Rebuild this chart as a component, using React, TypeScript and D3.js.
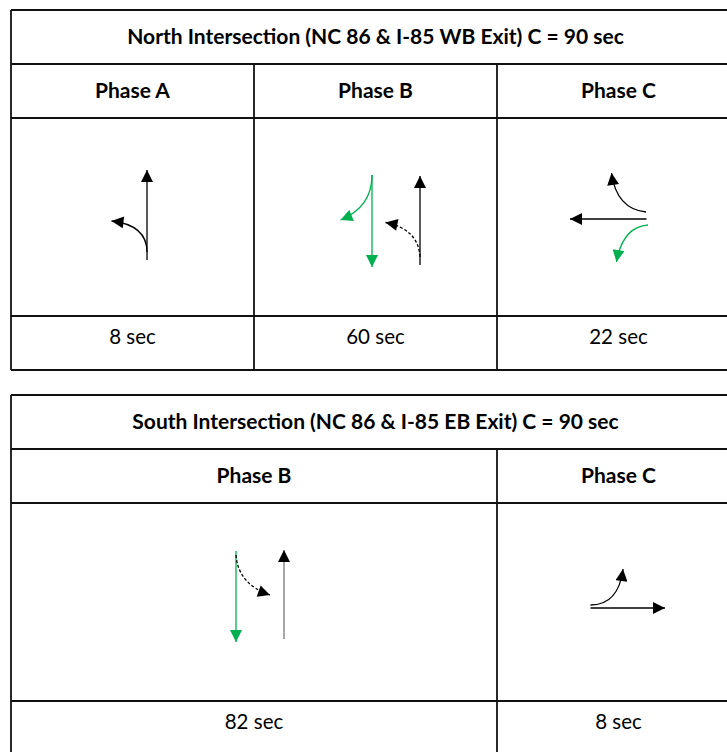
import React from 'react';
import { scaleBand, path as d3path } from 'd3';

// table content
const northTitle = 'North Intersection (NC 86 & I-85 WB Exit) C = 90 sec';
const northPhases = ['Phase A', 'Phase B', 'Phase C'];
const northSpans = [1, 1, 1];
const northTimes = ['8 sec', '60 sec', '22 sec'];

const southTitle = 'South Intersection (NC 86 & I-85 EB Exit) C = 90 sec';
const southPhases = ['Phase B', 'Phase C'];
const southSpans = [2, 1];
const southTimes = ['82 sec', '8 sec'];

// movements shown in each phase cell (points are offsets from the cell centre)
type Move = { pts: [number, number][]; color: string; dashed?: boolean };
const BLACK = '#000';
const GREEN = '#00B050';

const northMoves: Move[][] = [
  [
    { pts: [[14.5, 43], [14.5, -47]], color: BLACK },
    { pts: [[14.5, 35], [14.5, 8], [-21, 4]], color: BLACK },
  ],
  [
    { pts: [[-3.5, -42], [-3.5, 50]], color: GREEN },
    { pts: [[-3.5, -42], [-3.5, -10], [-35, 3]], color: GREEN },
    { pts: [[44.5, 48], [44.5, -41]], color: BLACK },
    { pts: [[44.5, 40], [43, 12], [10, 5.5]], color: BLACK, dashed: true },
  ],
  [
    { pts: [[28, 2], [-48.5, 2]], color: BLACK },
    { pts: [[27.5, -5], [-2, -8], [-7, -44]], color: BLACK },
    { pts: [[29.5, 8], [4, 10], [-2, 45]], color: GREEN },
  ],
];

const southMoves: Move[][] = [
  [
    { pts: [[-18, -51], [-18, 40]], color: GREEN },
    { pts: [[-18, -47], [-16, -18], [16, -7]], color: BLACK, dashed: true },
    { pts: [[30, 37], [30, -52]], color: '#777' },
  ],
  [
    { pts: [[-28, 6], [46.5, 6]], color: BLACK },
    { pts: [[-28, 3], [0, 3], [4.5, -33]], color: BLACK },
  ],
];

const LEFT = 11;
const RIGHT = 740;
const ROW = 54;
const BODY = 198;
const FONT = 'Lato, "Open Sans", sans-serif';
const cols = scaleBand<number>().domain([0, 1, 2]).range([LEFT, RIGHT]).padding(0);

function movePath(pts: [number, number][], cx: number, cy: number) {
  const p = d3path();
  p.moveTo(cx + pts[0][0], cy + pts[0][1]);
  if (pts.length === 2) p.lineTo(cx + pts[1][0], cy + pts[1][1]);
  else p.quadraticCurveTo(cx + pts[1][0], cy + pts[1][1], cx + pts[2][0], cy + pts[2][1]);
  return p.toString();
}

const Table: React.FC<{ top: number; title: string; phases: string[]; spans: number[]; times: string[]; moves: Move[][] }> = ({
  top, title, phases, spans, times, moves,
}) => {
  const rows = [top, top + ROW, top + 2 * ROW, top + 2 * ROW + BODY, top + 3 * ROW + BODY];
  const bodyCy = top + 2 * ROW + BODY / 2;
  let c = 0;
  const cells = spans.map(s => {
    const x0 = cols(c)!;
    c += s;
    return { x0, x1: x0 + s * cols.bandwidth() };
  });
  return (
    <g>
      {rows.map((y, i) => (
        <line key={i} x1={LEFT} x2={RIGHT} y1={y} y2={y} stroke="#111" strokeWidth={1.8} />
      ))}
      <line x1={LEFT} x2={LEFT} y1={top} y2={rows[4]} stroke="#111" strokeWidth={1.8} />
      {cells.slice(1).map((cell, i) => (
        <line key={i} x1={cell.x0} x2={cell.x0} y1={rows[1]} y2={rows[4]} stroke="#111" strokeWidth={1.8} />
      ))}
      <text x={(LEFT + RIGHT) / 2} y={top + ROW / 2} dy="0.35em" textAnchor="middle"
        fontFamily={FONT} fontWeight="bold" fontSize={21}>{title}</text>
      {phases.map((ph, i) => {
        const cx = (cells[i].x0 + cells[i].x1) / 2;
        return (
          <g key={ph}>
            <text x={cx} y={top + ROW * 1.5} dy="0.35em" textAnchor="middle"
              fontFamily={FONT} fontWeight="bold" fontSize={21}>{ph}</text>
            <text x={cx} y={rows[3] + 21} dy="0.35em" textAnchor="middle"
              fontFamily={FONT} fontSize={20.5}>{times[i]}</text>
            {moves[i].map((m, j) => (
              <path key={j} d={movePath(m.pts, cx, bodyCy)} fill="none" stroke={m.color}
                strokeWidth={1.3} strokeDasharray={m.dashed ? '3,2' : undefined}
                markerEnd={`url(#head-${m.color === GREEN ? 'g' : 'k'})`} />
            ))}
          </g>
        );
      })}
    </g>
  );
};

const App: React.FC = () => (
  <div style={{ position: 'absolute', left: 0, top: 0 }}>
    <svg width={727} height={752} style={{ display: 'block', background: '#fff' }}>
      <defs>
        {[['k', BLACK], ['g', GREEN]].map(([id, c]) => (
          <marker key={id} id={`head-${id}`} viewBox="0 0 10 10" refX={10} refY={5}
            markerUnits="userSpaceOnUse" markerWidth={13} markerHeight={12} orient="auto">
            <path d="M0,0 L10,5 L0,10 z" fill={c} />
          </marker>
        ))}
      </defs>
      <Table top={10} title={northTitle} phases={northPhases} spans={northSpans} times={northTimes} moves={northMoves} />
      <Table top={395} title={southTitle} phases={southPhases} spans={southSpans} times={southTimes} moves={southMoves} />
    </svg>
  </div>
);

export default App;
